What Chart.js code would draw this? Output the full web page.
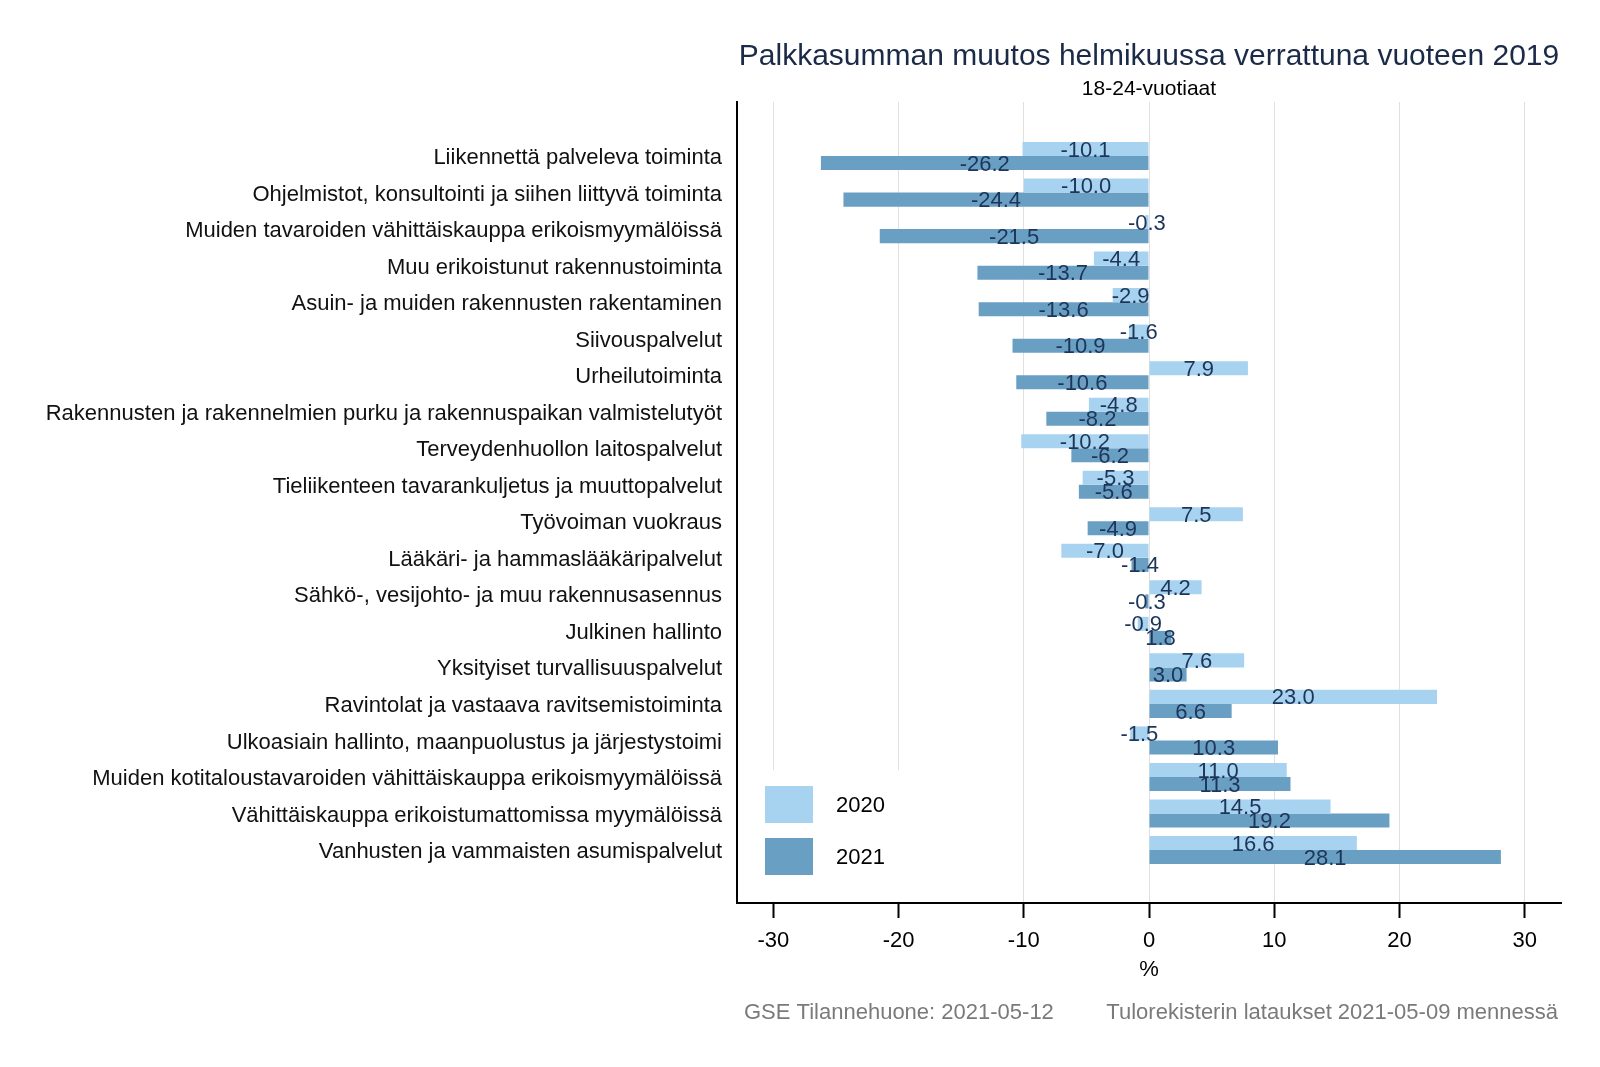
<!DOCTYPE html>
<html><head><meta charset="utf-8">
<script src="https://cdn.jsdelivr.net/npm/chart.js@4.4.1/dist/chart.umd.min.js"></script>
<style>html,body{margin:0;padding:0;background:#fff}#wrap{width:1600px;height:1067px;position:relative}canvas{display:block}</style>
</head><body><div id="wrap"><canvas id="c" width="1600" height="1067"></canvas></div>
<script>
const categories = [
  'Liikennettä palveleva toiminta',
  'Ohjelmistot, konsultointi ja siihen liittyvä toiminta',
  'Muiden tavaroiden vähittäiskauppa erikoismyymälöissä',
  'Muu erikoistunut rakennustoiminta',
  'Asuin- ja muiden rakennusten rakentaminen',
  'Siivouspalvelut',
  'Urheilutoiminta',
  'Rakennusten ja rakennelmien purku ja rakennuspaikan valmistelutyöt',
  'Terveydenhuollon laitospalvelut',
  'Tieliikenteen tavarankuljetus ja muuttopalvelut',
  'Työvoiman vuokraus',
  'Lääkäri- ja hammaslääkäripalvelut',
  'Sähkö-, vesijohto- ja muu rakennusasennus',
  'Julkinen hallinto',
  'Yksityiset turvallisuuspalvelut',
  'Ravintolat ja vastaava ravitsemistoiminta',
  'Ulkoasiain hallinto, maanpuolustus ja järjestystoimi',
  'Muiden kotitaloustavaroiden vähittäiskauppa erikoismyymälöissä',
  'Vähittäiskauppa erikoistumattomissa myymälöissä',
  'Vanhusten ja vammaisten asumispalvelut'
];
const values2020 = [-10.1, -10.0, -0.3, -4.4, -2.9, -1.6, 7.9, -4.8, -10.2, -5.3, 7.5, -7.0, 4.2, -0.9, 7.6, 23.0, -1.5, 11.0, 14.5, 16.6];
const values2021 = [-26.2, -24.4, -21.5, -13.7, -13.6, -10.9, -10.6, -8.2, -6.2, -5.6, -4.9, -1.4, -0.3, 1.8, 3.0, 6.6, 10.3, 11.3, 19.2, 28.1];
const seriesNames = ['2020', '2021'];
const xTicks = [-30, -20, -10, 0, 10, 20, 30];
const titleText = 'Palkkasumman muutos helmikuussa verrattuna vuoteen 2019';
const subtitleText = '18-24-vuotiaat';
const axisTitleText = '%';
const footerLeft = 'GSE Tilannehuone: 2021-05-12';
const footerRight = 'Tulorekisterin lataukset 2021-05-09 mennessä';

const FONT = "'Liberation Sans', Arial, sans-serif";
const colors = ['#a8d3f0', '#6a9fc4'];
const labelColor = '#1d3558';

Chart.defaults.font.family = FONT;
Chart.defaults.font.size = 22;
Chart.defaults.color = '#000';

const dataLabels = {
  id: 'dataLabels',
  afterDatasetsDraw(chart) {
    const ctx = chart.ctx;
    ctx.save();
    ctx.font = '22px ' + FONT;
    ctx.fillStyle = labelColor;
    ctx.textAlign = 'center';
    ctx.textBaseline = 'middle';
    chart.data.datasets.forEach((ds, di) => {
      const meta = chart.getDatasetMeta(di);
      meta.data.forEach((bar, i) => {
        const p = bar.getProps(['x', 'y', 'base'], true);
        ctx.fillText(ds.data[i].x.toFixed(1), (p.x + p.base) / 2, p.y + 1.5);
      });
    });
    ctx.restore();
  }
};

const extras = {
  id: 'extras',
  afterDraw(chart) {
    const ctx = chart.ctx;
    const ca = chart.chartArea;
    const cx = (ca.left + ca.right) / 2;
    ctx.save();
    ctx.textBaseline = 'middle';
    ctx.textAlign = 'center';
    ctx.fillStyle = '#1b2a47';
    ctx.font = '30px ' + FONT;
    ctx.fillText(titleText, cx, 57);
    ctx.fillStyle = '#000';
    ctx.font = '21px ' + FONT;
    ctx.fillText(subtitleText, cx, 89);
    ctx.font = '22px ' + FONT;
    ctx.fillText(axisTitleText, cx, 970);
    ctx.fillStyle = '#7a7a7a';
    ctx.textAlign = 'left';
    ctx.fillText(footerLeft, 744, 1013);
    ctx.textAlign = 'right';
    ctx.fillText(footerRight, 1558, 1013);
    // legend
    ctx.fillStyle = '#fff';
    ctx.fillRect(ca.left + 2, 770, 177, ca.bottom - 771 - 1);
    const rows = [[786, 37, 806], [838, 37, 858]];
    seriesNames.forEach((n, i) => {
      ctx.fillStyle = colors[i];
      ctx.fillRect(765, rows[i][0], 48, rows[i][1]);
      ctx.fillStyle = '#000';
      ctx.textAlign = 'left';
      ctx.fillText(n, 836, rows[i][2]);
    });
    ctx.restore();
  }
};

new Chart(document.getElementById('c'), {
  type: 'bar',
  data: {
    datasets: [values2020, values2021].map((vals, di) => ({
      label: seriesNames[di],
      data: vals.map((v, i) => ({ x: v, y: i })),
      backgroundColor: colors[di],
      borderWidth: 0,
      categoryPercentage: 0.77,
      barPercentage: 1.0
    }))
  },
  options: {
    indexAxis: 'y',
    responsive: false,
    animation: false,
    devicePixelRatio: 1,
    layout: { padding: { top: 102, right: 39, bottom: 0, left: 0 } },
    plugins: { legend: { display: false }, title: { display: false }, tooltip: { enabled: false } },
    scales: {
      y: {
        type: 'linear',
        reverse: true,
        offset: false,
        min: -1.48,
        max: 20.45,
        afterBuildTicks: s => { s.ticks = categories.map((_, i) => ({ value: i })); },
        afterFit: s => { s.width = 737; },
        ticks: { autoSkip: false, padding: 15, labelOffset: 2, color: '#111', font: { size: 22 }, callback: v => categories[v] },
        grid: { display: false, drawTicks: false, offset: false },
        border: { display: true, color: '#000', width: 2 }
      },
      x: {
        type: 'linear',
        min: -32.9,
        max: 32.9,
        afterBuildTicks: s => { s.ticks = xTicks.map(v => ({ value: v })); },
        afterFit: s => { s.height = 164; },
        ticks: { padding: 10, color: '#000', font: { size: 22 } },
        grid: { color: '#e0e0e0', lineWidth: 1, tickColor: '#000', tickLength: 15, tickWidth: 2 },
        border: { color: '#000', width: 2 }
      }
    }
  },
  plugins: [dataLabels, extras]
});
</script>
</body></html>
